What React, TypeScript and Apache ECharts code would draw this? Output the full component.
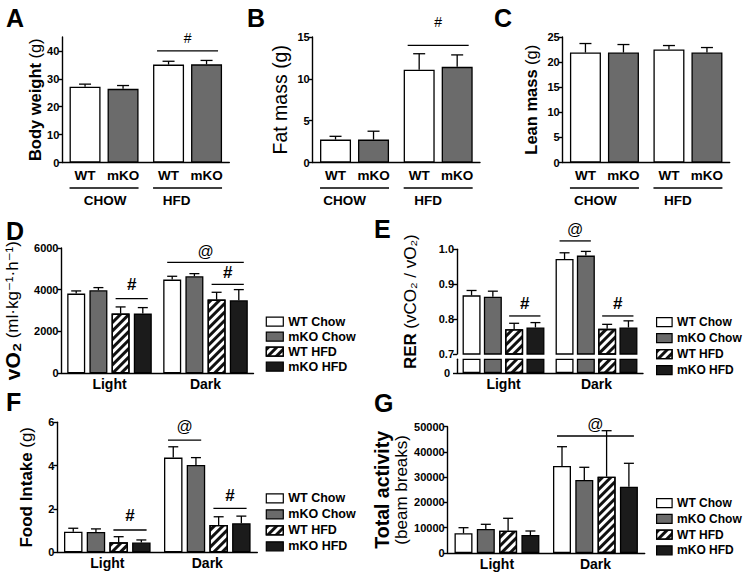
import React, { useEffect, useRef } from 'react';
import * as echarts from 'echarts';

// ---------------- data ----------------
const dietGroups = ['CHOW', 'HFD'];
const genotypes = ['WT', 'mKO'];
const bodyWeightMean = [[27.2, 35.1], [26.4, 35.2]];
const bodyWeightSem = [[0.9, 1.2], [1.2, 1.4]];
const fatMassMean = [[2.74, 11.1], [2.74, 11.43]];
const fatMassSem = [[0.39, 1.9], [1.0, 1.43]];
const leanMassMean = [[21.9, 22.5], [21.9, 21.9]];
const leanMassSem = [[1.8, 0.8], [1.6, 1.0]];

const periods = ['Light', 'Dark'];
const groups = ['WT Chow', 'mKO Chow', 'WT HFD', 'mKO HFD'];
const vo2Mean = [[3815, 4485], [3975, 4645], [2857, 3527], [2857, 3495]];
const vo2Sem = [[128, 160], [127, 127], [319, 351], [287, 511]];
const rerMean = [[0.868, 0.972], [0.864, 0.982], [0.771, 0.772], [0.776, 0.776]];
const rerSem = [[0.014, 0.018], [0.016, 0.012], [0.017, 0.013], [0.014, 0.019]];
const foodMean = [[0.95, 4.37], [0.94, 4.03], [0.46, 1.26], [0.45, 1.34]];
const foodSem = [[0.16, 0.5], [0.14, 0.34], [0.26, 0.38], [0.12, 0.33]];
const activityMean = [[7800, 34450], [9500, 28900], [8830, 30220], [7130, 26260]];
const activitySem = [[2220, 7630], [1860, 5030], [4910, 18200], [1580, 9250]];

const ticksBody = [0, 10, 20, 30, 40];
const ticksFat = [0, 5, 10, 15];
const ticksLean = [0, 5, 10, 15, 20, 25];
const ticksVo2 = [0, 2000, 4000, 6000];
const ticksRer = [0.7, 0.8, 0.9, 1.0];
const ticksRerLow = [0];
const ticksFood = [0, 2, 4, 6];
const ticksActivity = [0, 10000, 20000, 30000, 40000, 50000];

// significance marks: panel, symbol, category, first/last bar, line level, symbol level (data units)
const sigMarks = [
  { panel: 'A', symbol: '#', cat: 1, from: 0, to: 1, line: 40, text: 44.6 },
  { panel: 'B', symbol: '#', cat: 1, from: 0, to: 1, line: 14, text: 16.8 },
  { panel: 'D', symbol: '#', cat: 0, from: 2, to: 3, line: 3570, text: 4227 },
  { panel: 'D', symbol: '@', cat: 1, from: 0, to: 3, line: 5314, text: 5822 },
  { panel: 'D', symbol: '#', cat: 1, from: 2, to: 3, line: 4260, text: 4816 },
  { panel: 'E', symbol: '#', cat: 0, from: 2, to: 3, line: 0.809, text: 0.845 },
  { panel: 'E', symbol: '@', cat: 1, from: 0, to: 1, line: 1.024, text: 1.057 },
  { panel: 'E', symbol: '#', cat: 1, from: 2, to: 3, line: 0.809, text: 0.845 },
  { panel: 'F', symbol: '#', cat: 0, from: 2, to: 3, line: 1.03, text: 1.72 },
  { panel: 'F', symbol: '@', cat: 1, from: 0, to: 1, line: 5.18, text: 5.8 },
  { panel: 'F', symbol: '#', cat: 1, from: 2, to: 3, line: 2.03, text: 2.64 },
  { panel: 'G', symbol: '@', cat: 1, from: 0, to: 3, line: 46320, text: 50675 },
];

// ---------------- styles / layout ----------------
const FONT = '"Liberation Sans", Arial, Helvetica, "DejaVu Sans", sans-serif';
const HATCH = {
  symbol: 'rect',
  symbolSize: 1,
  dashArrayX: [1, 0],
  dashArrayY: [2.4, 2.6],
  rotation: -Math.PI / 4,
  color: '#111111',
};
const FILL: Record<string, any> = {
  WT: { color: '#ffffff' },
  mKO: { color: '#6b6b6b' },
  'WT Chow': { color: '#ffffff' },
  'mKO Chow': { color: '#6b6b6b' },
  'WT HFD': { color: '#ffffff', decal: HATCH },
  'mKO HFD': { color: '#1b1b1b' },
};

type Panel = {
  id: string;
  rect: { left: number; top: number; width: number; height: number };
  cats: string[];
  names: string[];
  mean: number[][];
  sem: number[][] | null;
  yMin: number;
  yMax: number;
  ticks: number[];
  stub?: boolean;
  dec: number;
  title: string;
  rich: any;
  nameGap: number;
  barW: number;
  step: number;
  cap: number;
  xLine: boolean;
  xLabel: 'group' | 'period' | 'none';
  labelShift: number[];
  barLabels: boolean;
};

const rs = (w: string, size: number, lh?: number) => ({ fontFamily: FONT, fontWeight: w, fontSize: size, color: '#000', lineHeight: lh ?? size + 2 });

const panels: Panel[] = [
  { id: 'A', rect: { left: 62.3, top: 37, width: 167, height: 125.5 }, cats: dietGroups, names: genotypes,
    mean: bodyWeightMean, sem: bodyWeightSem, yMin: 0, yMax: 45, ticks: ticksBody, dec: 0,
    title: '{b|Body weight} {r|(g)}', rich: { b: rs('bold', 16.5), r: rs('normal', 16.5) },
    nameGap: 18, barW: 31, step: 38, cap: 12, xLine: true, xLabel: 'group', labelShift: [1, -11], barLabels: true },
  { id: 'B', rect: { left: 312.7, top: 37, width: 167.3, height: 125.5 }, cats: dietGroups, names: genotypes,
    mean: fatMassMean, sem: fatMassSem, yMin: 0, yMax: 15, ticks: ticksFat, dec: 0,
    title: '{r|Fat mass (g)}', rich: { r: rs('normal', 19.5) },
    nameGap: 22, barW: 31, step: 38, cap: 12, xLine: true, xLabel: 'group', labelShift: [-10, -10], barLabels: true },
  { id: 'C', rect: { left: 562.7, top: 37, width: 167, height: 125.5 }, cats: dietGroups, names: genotypes,
    mean: leanMassMean, sem: leanMassSem, yMin: 0, yMax: 25, ticks: ticksLean, dec: 0,
    title: '{b|Lean mass} {r|(g)}', rich: { b: rs('bold', 16.5), r: rs('normal', 16.5) },
    nameGap: 22, barW: 31, step: 38, cap: 12, xLine: true, xLabel: 'group', labelShift: [-9, -10], barLabels: true },
  { id: 'D', rect: { left: 61.5, top: 248, width: 192, height: 125.2 }, cats: periods, names: groups,
    mean: vo2Mean, sem: vo2Sem, yMin: 0, yMax: 6000, ticks: ticksVo2, dec: 0,
    title: '{b|vO₂} {r|(ml·kg⁻¹·h⁻¹)}', rich: { b: rs('bold', 21), r: rs('normal', 17) },
    nameGap: 38, barW: 18, step: 22.2, cap: 10, xLine: true, xLabel: 'period', labelShift: [0, 0], barLabels: false },
  { id: 'E', rect: { left: 457, top: 249.3, width: 186, height: 104.7 }, cats: periods, names: groups,
    mean: rerMean, sem: rerSem, yMin: 0.7, yMax: 1.0, ticks: ticksRer, dec: 1,
    title: '{b|RER} {r|(vCO₂ / vO₂)}', rich: { b: rs('bold', 17), r: rs('normal', 17) },
    nameGap: 37, barW: 18, step: 21.3, cap: 10, xLine: false, xLabel: 'none', labelShift: [0, 0], barLabels: false },
  { id: 'E0', rect: { left: 457, top: 359.3, width: 186, height: 13.8 }, cats: periods, names: groups,
    mean: rerMean, sem: null, yMin: 0, yMax: 0.05, ticks: ticksRerLow, stub: true, dec: 0,
    title: '', rich: {}, nameGap: 0, barW: 18, step: 21.3, cap: 10, xLine: true, xLabel: 'period', labelShift: [0, 0], barLabels: false },
  { id: 'F', rect: { left: 57.3, top: 422.3, width: 200, height: 130 }, cats: periods, names: groups,
    mean: foodMean, sem: foodSem, yMin: 0, yMax: 6, ticks: ticksFood, dec: 0,
    title: '{b|Food Intake} {r|(g)}', rich: { b: rs('bold', 17), r: rs('normal', 17) },
    nameGap: 21, barW: 18.5, step: 22.7, cap: 10, xLine: true, xLabel: 'period', labelShift: [0, 0], barLabels: false },
  { id: 'G', rect: { left: 447.7, top: 426.7, width: 197, height: 126.3 }, cats: periods, names: groups,
    mean: activityMean, sem: activitySem, yMin: 0, yMax: 50000, ticks: ticksActivity, dec: 0,
    title: '{b|Total activity}\n{r|(beam breaks)}', rich: { b: rs('bold', 19.5, 20), r: rs('normal', 17, 20) },
    nameGap: 36, barW: 18, step: 22.3, cap: 10, xLine: true, xLabel: 'period', labelShift: [0, 0], barLabels: false },
];

const legendBoxes = [
  { left: 265.7, top: 315.2, gap: 2, w: 17, font: 12.5 },
  { left: 656, top: 315.7, gap: 3, w: 15.5, font: 12 },
  { left: 265.7, top: 491.8, gap: 3, w: 17, font: 12.5 },
  { left: 656, top: 496.7, gap: 2.7, w: 15.5, font: 12 },
];

const panelLetters = [
  { t: 'A', x: 6, y: 17.5 },
  { t: 'B', x: 247, y: 17.5 },
  { t: 'C', x: 494, y: 18 },
  { t: 'D', x: 6, y: 230.5 },
  { t: 'E', x: 374, y: 229 },
  { t: 'F', x: 6, y: 401.5 },
  { t: 'G', x: 374, y: 402.5 },
];

const TICK_FONT = { fontFamily: FONT, fontWeight: 'bold', fontSize: 11 };

function buildOption() {
  const grid: any[] = [];
  const xAxis: any[] = [];
  const yAxis: any[] = [];
  const series: any[] = [];
  panels.forEach((p, gi) => {
    grid.push({ ...p.rect });
    let axisLabel: any = { show: false };
    if (p.xLabel === 'group') {
      const rich: any = {};
      p.labelShift.forEach((s, i) => {
        rich['s' + i] = {
          fontFamily: FONT, fontWeight: 'bold', fontSize: 13.5, color: '#000',
          padding: s < 0 ? [0, -2 * s, 0, 0] : [0, 0, 0, 2 * s],
        };
      });
      axisLabel = {
        show: true, interval: 0, hideOverlap: false, margin: 31, fontFamily: FONT, fontWeight: 'bold', fontSize: 13.5, color: '#000',
        formatter: (v: string, i: number) => `{s${i}|${v}}`, rich,
      };
    } else if (p.xLabel === 'period') {
      axisLabel = { show: true, interval: 0, fontFamily: FONT, fontWeight: 'bold', fontSize: 14, color: '#000', margin: 4 };
    }
    xAxis.push({
      type: 'category', gridIndex: gi, data: p.cats,
      axisLine: { show: p.xLine, lineStyle: { color: '#000', width: 1.4 } },
      axisTick: { show: false },
      axisLabel,
      splitLine: { show: false },
    });
    yAxis.push({
      type: 'value', gridIndex: gi, min: p.yMin, max: p.yMax,
      axisLine: { show: true, lineStyle: { color: '#000', width: 1.4 } },
      axisTick: { show: true, length: 4, customValues: p.ticks, lineStyle: { color: '#000', width: 1.4 } },
      axisLabel: {
        show: !p.stub,
        customValues: p.ticks, showMinLabel: true, showMaxLabel: true,
        formatter: (v: number) => (v === 0 ? '0' : v.toFixed(p.dec)),
        ...TICK_FONT, color: '#000', margin: 3,
      },
      splitLine: { show: false },
      name: p.title || undefined, nameLocation: 'middle', nameRotate: 90, nameGap: p.nameGap,
      nameTextStyle: { fontFamily: FONT, color: '#000', fontSize: 16, rich: p.rich },
    });
    const n = p.names.length;
    p.names.forEach((name, si) => {
      series.push({
        type: 'bar', name, xAxisIndex: gi, yAxisIndex: gi, data: p.mean[si],
        barWidth: p.barW, barGap: `${(((p.step - p.barW) / p.barW) * 100).toFixed(1)}%`,
        itemStyle: { ...FILL[name], borderColor: '#000', borderWidth: 1.3 },
        label: p.barLabels
          ? { show: true, position: 'bottom', distance: 6, formatter: name, fontFamily: FONT, fontWeight: 'bold', fontSize: 13.5, color: '#000' }
          : { show: false },
        emphasis: { disabled: true }, silent: true, clip: true, z: 2,
      });
    });
    if (p.stub) {
      // tick label of the short lower segment of the broken RER axis, placed by the axis scale
      series.push({
        type: 'custom', xAxisIndex: gi, yAxisIndex: gi, silent: true, clip: false, z: 50,
        data: p.ticks.map((t) => [0, t]), encode: { x: 0, y: 1 },
        renderItem: (params: any, api: any) => {
          const pt = api.coord([0, api.value(1)]);
          return {
            type: 'text', x: params.coordSys.x - 7, y: pt[1],
            style: { text: String(api.value(1)), ...TICK_FONT, fill: '#000', align: 'right', verticalAlign: 'middle' },
          };
        },
      });
    }
    if (p.sem) {
      const errData: number[][] = [];
      p.names.forEach((_, si) => p.cats.forEach((__, ci) => errData.push([ci, p.mean[si][ci], p.sem![si][ci], si])));
      series.push({
        type: 'custom', xAxisIndex: gi, yAxisIndex: gi, data: errData, encode: { x: 0, y: 1 }, silent: true, z: 3,
        renderItem: (params: any, api: any) => {
          const ci = api.value(0), m = api.value(1), s = api.value(2), si = api.value(3);
          const p0 = api.coord([ci, m]);
          const p1 = api.coord([ci, m + s]);
          const x = p0[0] + (si - (n - 1) / 2) * p.step;
          const st = { stroke: '#000', lineWidth: 1.3 };
          return {
            type: 'group',
            children: [
              { type: 'line', shape: { x1: x, y1: p0[1], x2: x, y2: p1[1] }, style: st },
              { type: 'line', shape: { x1: x - p.cap / 2, y1: p1[1], x2: x + p.cap / 2, y2: p1[1] }, style: st },
            ],
          };
        },
      });
    }
  });
  return {
    animation: false,
    backgroundColor: '#ffffff',
    grid, xAxis, yAxis, series,
    legend: legendBoxes.map((b) => ({
      show: true, data: groups, orient: 'vertical', left: b.left, top: b.top, padding: 0,
      itemGap: b.gap, itemWidth: b.w, itemHeight: 9, icon: 'rect', selectedMode: false,
      itemStyle: { borderColor: '#000', borderWidth: 1.2 },
      textStyle: { fontFamily: FONT, fontWeight: 'bold', fontSize: b.font, color: '#000', lineHeight: 13 },
    })),
  };
}

function buildGraphics(chart: any) {
  const g: any[] = [];
  panelLetters.forEach((l) => g.push({
    type: 'text', x: l.x, y: l.y, silent: true,
    style: { text: l.t, fontFamily: FONT, fontWeight: 'bold', fontSize: 25, fill: '#000', align: 'left', verticalAlign: 'middle' },
  }));
  const idx = (id: string) => panels.findIndex((p) => p.id === id);
  const barCenter = (gi: number, ci: number, si: number) => {
    const p = panels[gi];
    const c = chart.convertToPixel({ gridIndex: gi }, [ci, p.yMin]);
    return c[0] + (si - (p.names.length - 1) / 2) * p.step;
  };
  const yPx = (gi: number, v: number) => chart.convertToPixel({ gridIndex: gi }, [0, v])[1];
  const lineStyle = { stroke: '#000', lineWidth: 1.3 };

  // group underlines below WT / mKO labels
  panels.forEach((p, gi) => {
    if (!p.barLabels) return;
    const y = yPx(gi, 0) + 25.5;
    p.cats.forEach((_, ci) => {
      const x1 = barCenter(gi, ci, 0) - p.barW / 2;
      const x2 = barCenter(gi, ci, p.names.length - 1) + p.barW / 2;
      g.push({ type: 'line', silent: true, shape: { x1, y1: y, x2, y2: y }, style: lineStyle });
    });
  });

  // significance marks
  sigMarks.forEach((m) => {
    const gi = idx(m.panel);
    const p = panels[gi];
    const x1 = barCenter(gi, m.cat, m.from) - p.barW / 2 + 4;
    const x2 = barCenter(gi, m.cat, m.to) + p.barW / 2 - 4;
    const yl = yPx(gi, m.line);
    const yt = yPx(gi, m.text);
    g.push({ type: 'line', silent: true, shape: { x1, y1: yl, x2, y2: yl }, style: lineStyle });
    const small = m.panel === 'A' || m.panel === 'B';
    const bold = m.symbol === '#' && !small;
    g.push({
      type: 'text', silent: true, x: (x1 + x2) / 2, y: yt,
      style: {
        text: m.symbol, fontFamily: FONT, fontWeight: bold ? 'bold' : 'normal',
        fontSize: m.symbol === '@' ? 16 : small ? 14 : 17, fill: '#000', align: 'center', verticalAlign: 'middle',
      },
    });
  });
  return g;
}

export default function App() {
  const ref = useRef<HTMLDivElement>(null);
  useEffect(() => {
    if (!ref.current) return;
    const chart = echarts.init(ref.current, null, { renderer: 'svg' });
    chart.setOption(buildOption() as any);
    chart.setOption({ graphic: buildGraphics(chart) } as any);
    return () => chart.dispose();
  }, []);
  return (
    <div
      ref={ref}
      style={{ position: 'fixed', left: 0, top: 0, width: 745, height: 574, background: '#fff' }}
    />
  );
}
